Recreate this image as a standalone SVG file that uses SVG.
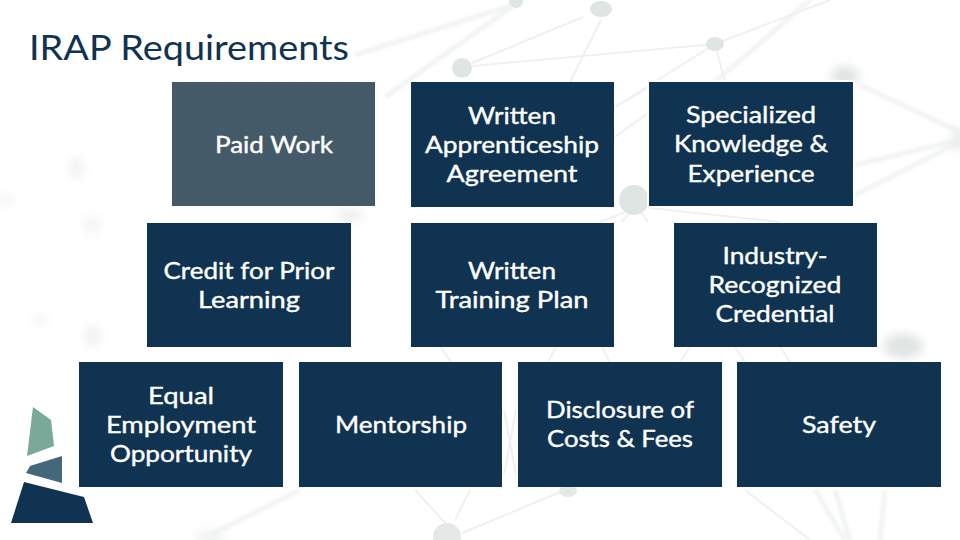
<svg xmlns="http://www.w3.org/2000/svg" width="960" height="540" viewBox="0 0 960 540">
<style>
.b{fill:#0f3351}
.t{font-family:Lato,"Open Sans",sans-serif;font-size:24px;fill:#fff;stroke:#fff;stroke-width:.4px;text-anchor:middle;font-weight:400}
.l{stroke:#eef1f0;stroke-width:2;fill:none}
.f{stroke:#f1f4f3;stroke-width:5;fill:none}
.d{fill:#dfe5e3}
.s{fill:#e4e9e7}
</style>
<defs>
<filter id="bl" x="-60%" y="-60%" width="220%" height="220%"><feGaussianBlur stdDeviation="5"/></filter>
<filter id="bs" x="-20%" y="-20%" width="140%" height="140%"><feGaussianBlur stdDeviation="1.5"/></filter>
</defs>
<rect width="960" height="540" fill="#fff"/>
<g id="background">
<g filter="url(#bs)">
<path class="f" d="M516 4L355 55M516 4L385 97M810 0L700 95M860 85L960 132M855 165L960 140M855 195L960 142M210 535L300 490M815 490L845 540M835 490L850 540M885 490L880 540"/>
</g>
<path class="l" d="M472 63L583 17M472 66L715 44L830 0M715 44L725 82M715 44L615 107L648 88M648 113L615 137M601 20L570 82M632 210L622 222M640 210L648 222M600 222L625 212M650 208L780 222M441 347L451 362M556 347L548 362M602 347L610 362M690 347L680 362M735 347L745 362M780 347L790 362M504 410L516 475M516 410L504 475M462 533L565 490M745 490L810 540M447 525L415 490M455 520L470 490"/>
<circle class="d" cx="462" cy="68" r="10"/>
<ellipse class="d" cx="601" cy="9" rx="11" ry="8"/>
<circle class="d" cx="516" cy="1" r="7"/>
<ellipse class="d" cx="715" cy="44" rx="9" ry="7"/>
<circle class="d" cx="634" cy="200" r="15"/>
<circle class="s" cx="447" cy="537" r="14"/>
<ellipse class="s" cx="568" cy="491" rx="9" ry="6"/>
<g filter="url(#bl)">
<ellipse cx="845" cy="76" rx="14" ry="10" fill="#dfe5e3"/>
<ellipse cx="903" cy="346" rx="20" ry="12" fill="#dfe5e3"/>
<ellipse cx="958" cy="140" rx="6" ry="12" fill="#e8ecea"/>
<ellipse cx="77" cy="168" rx="8" ry="10" fill="#f1f3f2"/>
<ellipse cx="5" cy="200" rx="6" ry="8" fill="#f3f5f4"/>
<ellipse cx="92" cy="225" rx="9" ry="9" fill="#f3f5f4"/>
<ellipse cx="40" cy="320" rx="8" ry="6" fill="#f5f6f6"/>
<ellipse cx="93" cy="336" rx="10" ry="10" fill="#f1f3f2"/>
<ellipse cx="350" cy="215" rx="14" ry="7" fill="#eef1f0"/>
<ellipse cx="210" cy="537" rx="14" ry="8" fill="#f1f3f2"/>
</g>
</g>
<g id="logo">
<polygon points="33,407 51,420 54,446 27,456" fill="#7aa99a"/>
<polygon points="30,466 62,456 62,483 26,473" fill="#44687a"/>
<polygon points="24,482 84,497 93,523 11,523" fill="#0f3351"/>
</g>
<text id="title" x="29" y="60" font-family="Lato,'Open Sans',sans-serif" font-size="35" fill="#0f3351" textLength="320" lengthAdjust="spacingAndGlyphs">IRAP Requirements</text>
<g id="connectors"/>
<g id="paid-work"><rect x="172" y="82" width="203" height="124" fill="#445a69"/><text class="t" x="274" y="153" textLength="118" lengthAdjust="spacingAndGlyphs">Paid Work</text></g>
<g id="agreement"><rect class="b" x="411" y="82" width="203" height="125"/><text class="t" x="512" y="124" textLength="88" lengthAdjust="spacingAndGlyphs">Written</text><text class="t" x="512" y="153" textLength="174" lengthAdjust="spacingAndGlyphs">Apprenticeship</text><text class="t" x="512" y="182" textLength="131" lengthAdjust="spacingAndGlyphs">Agreement</text></g>
<g id="knowledge"><rect x="647" y="80" width="208" height="128" fill="#fff"/><rect class="b" x="649" y="82" width="204" height="124"/><text class="t" x="751" y="123" textLength="130" lengthAdjust="spacingAndGlyphs">Specialized</text><text class="t" x="751" y="152" textLength="154" lengthAdjust="spacingAndGlyphs">Knowledge &amp;</text><text class="t" x="751" y="182" textLength="127" lengthAdjust="spacingAndGlyphs">Experience</text></g>
<g id="prior-learning"><rect class="b" x="147" y="223" width="204" height="124"/><text class="t" x="249" y="279" textLength="171" lengthAdjust="spacingAndGlyphs">Credit for Prior</text><text class="t" x="249" y="308" textLength="102" lengthAdjust="spacingAndGlyphs">Learning</text></g>
<g id="training-plan"><rect class="b" x="411" y="223" width="203" height="124"/><text class="t" x="512" y="279" textLength="88" lengthAdjust="spacingAndGlyphs">Written</text><text class="t" x="512" y="308" textLength="153" lengthAdjust="spacingAndGlyphs">Training Plan</text></g>
<g id="credential"><rect class="b" x="674" y="223" width="203" height="124"/><text class="t" x="775" y="264" textLength="105" lengthAdjust="spacingAndGlyphs">Industry-</text><text class="t" x="775" y="293" textLength="133" lengthAdjust="spacingAndGlyphs">Recognized</text><text class="t" x="775" y="322" textLength="119" lengthAdjust="spacingAndGlyphs">Credential</text></g>
<g id="eeo"><rect class="b" x="79" y="362" width="204" height="125"/><text class="t" x="181" y="404" textLength="66" lengthAdjust="spacingAndGlyphs">Equal</text><text class="t" x="181" y="433" textLength="150" lengthAdjust="spacingAndGlyphs">Employment</text><text class="t" x="181" y="462" textLength="142" lengthAdjust="spacingAndGlyphs">Opportunity</text></g>
<g id="mentorship"><rect class="b" x="299" y="362" width="203" height="125"/><text class="t" x="401" y="433" textLength="132" lengthAdjust="spacingAndGlyphs">Mentorship</text></g>
<g id="disclosure"><rect class="b" x="518" y="362" width="204" height="125"/><text class="t" x="620" y="418" textLength="148" lengthAdjust="spacingAndGlyphs">Disclosure of</text><text class="t" x="620" y="447" textLength="146" lengthAdjust="spacingAndGlyphs">Costs &amp; Fees</text></g>
<g id="safety"><rect class="b" x="737" y="362" width="204" height="125"/><text class="t" x="839" y="433" textLength="74" lengthAdjust="spacingAndGlyphs">Safety</text></g>
</svg>
